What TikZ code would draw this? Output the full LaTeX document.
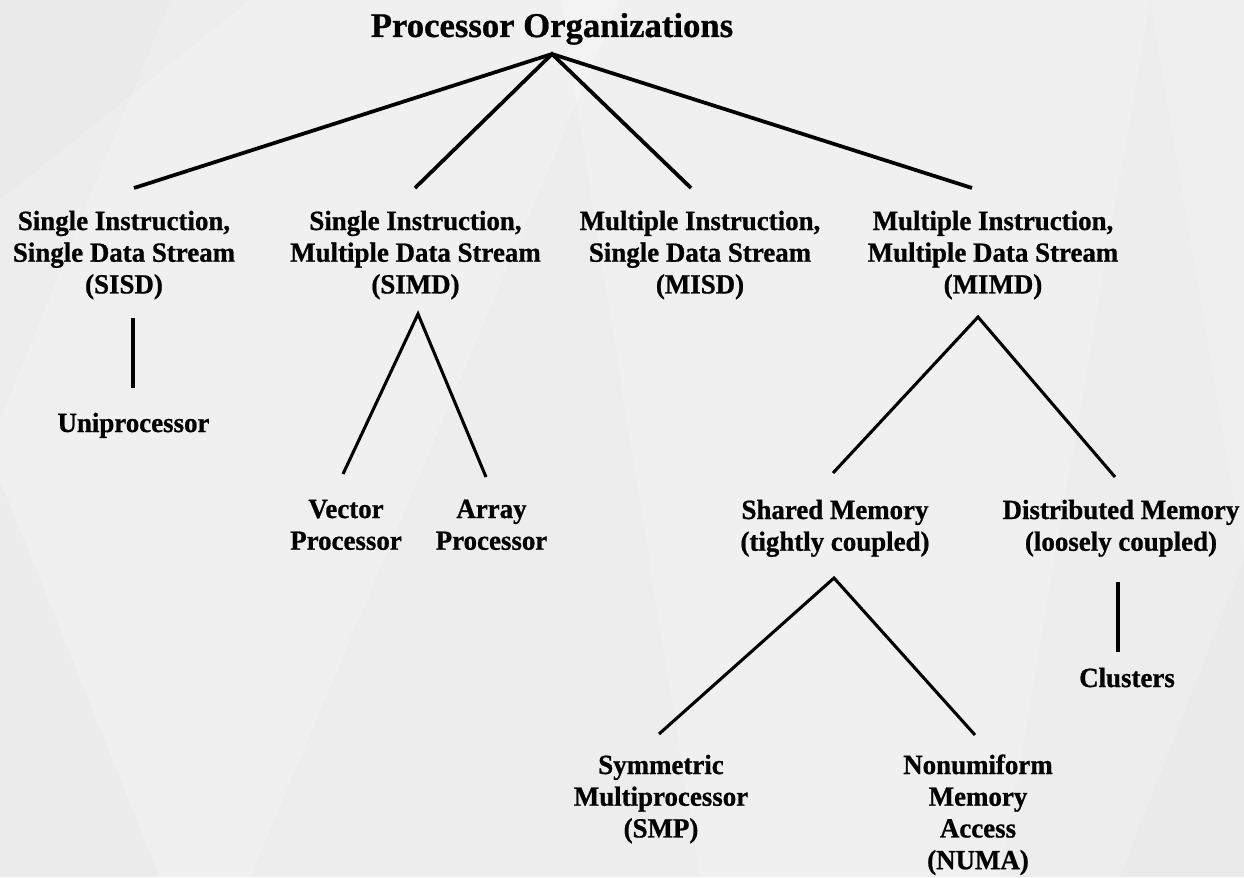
\documentclass[tikz,border=0pt]{standalone}
\usepackage{fontspec}
\setmainfont{Liberation Serif}[BoldFeatures={FakeBold=0.8}]
\newfontfamily\lblfont{Liberation Serif}[BoldFeatures={FakeBold=0.8,FakeStretch=0.97}]
\newcommand{\stack}[1]{\begin{tabular}[t]{@{}c@{}}#1\end{tabular}}
\begin{document}
\begin{tikzpicture}[x=0.75pt,y=-0.75pt,
  lbl/.style={inner sep=0pt, anchor=base, font=\lblfont\fontsize{20.8}{23.8}\selectfont\bfseries},
  ttl/.style={inner sep=0pt, anchor=base, font=\fontsize{26}{30}\selectfont\bfseries},
  toplink/.style={line width=2.8pt, line join=miter},
  sublink/.style={line width=2.3pt, line join=miter},
  stem/.style={line width=3pt}]
% background with faint facets
\definecolor{bgbase}{HTML}{EDEDED}
\fill[bgbase] (0,0) rectangle (1244,877);
\useasboundingbox (0,0) rectangle (1244,877);
\fill[white,opacity=0.22] (170,0) -- (620,0) -- (250,877) -- (0,877) -- (0,420) -- cycle;
\fill[white,opacity=0.2] (560,0) -- (1150,0) -- (1000,877) -- (700,877) -- cycle;
\fill[white,opacity=0.15] (1150,0) -- (1244,0) -- (1244,560) -- cycle;
\fill[black,opacity=0.015] (0,480) -- (160,877) -- (0,877) -- cycle;
\fill[black,opacity=0.012] (1244,560) -- (1244,877) -- (1120,877) -- cycle;
\fill[black,opacity=0.012] (0,0) -- (250,0) -- (0,200) -- cycle;

% labels
\node[ttl] (root) at (552,37) {Processor Organizations};
\node[lbl] (sisd) at (124,230) {\stack{Single Instruction,\\Single Data Stream\\(SISD)}};
\node[lbl] (simd) at (415.5,230) {\stack{Single Instruction,\\Multiple Data Stream\\(SIMD)}};
\node[lbl] (misd) at (700,230) {\stack{Multiple Instruction,\\Single Data Stream\\(MISD)}};
\node[lbl] (mimd) at (993,230) {\stack{Multiple Instruction,\\Multiple Data Stream\\(MIMD)}};
\node[lbl] (uni) at (133.5,432) {Uniprocessor};
\node[lbl] (vector) at (346,518) {\stack{Vector\\Processor}};
\node[lbl] (array) at (491.5,518) {\stack{Array\\Processor}};
\node[lbl] (shared) at (835,519) {\stack{Shared Memory\\(tightly coupled)}};
\node[lbl] (dist) at (1121,519) {\stack{Distributed Memory\\(loosely coupled)}};
\node[lbl] (clusters) at (1127,687) {Clusters};
\node[lbl] (smp) at (661,774) {\stack{Symmetric\\Multiprocessor\\(SMP)}};
\node[lbl] (numa) at (978,774) {\stack{Nonumiform\\Memory\\Access\\(NUMA)}};

% connector end points
\coordinate (root-out) at (552,54);
\coordinate (sisd-in) at (134,188);
\coordinate (simd-in) at (415,188);
\coordinate (misd-in) at (691,188);
\coordinate (mimd-in) at (972,188);
\coordinate (sisd-out) at (133,318);
\coordinate (uni-in) at (133,388);
\coordinate (simd-out) at (418,314);
\coordinate (vector-in) at (343,474);
\coordinate (array-in) at (486,477);
\coordinate (mimd-out) at (978,317);
\coordinate (shared-in) at (833,473);
\coordinate (dist-in) at (1115,477);
\coordinate (shared-out) at (834,578);
\coordinate (smp-in) at (659,734);
\coordinate (numa-in) at (975,735);
\coordinate (dist-out) at (1118,582);
\coordinate (clusters-in) at (1118,652);

% connectors
\draw[toplink] (sisd-in) -- (root-out) -- (mimd-in);
\draw[toplink] (simd-in) -- (root-out) -- (misd-in);
\draw[stem] (sisd-out) -- (uni-in);
\draw[sublink] (vector-in) -- (simd-out) -- (array-in);
\draw[sublink] (shared-in) -- (mimd-out) -- (dist-in);
\draw[sublink] (smp-in) -- (shared-out) -- (numa-in);
\draw[stem] (dist-out) -- (clusters-in);
\end{tikzpicture}
\end{document}
